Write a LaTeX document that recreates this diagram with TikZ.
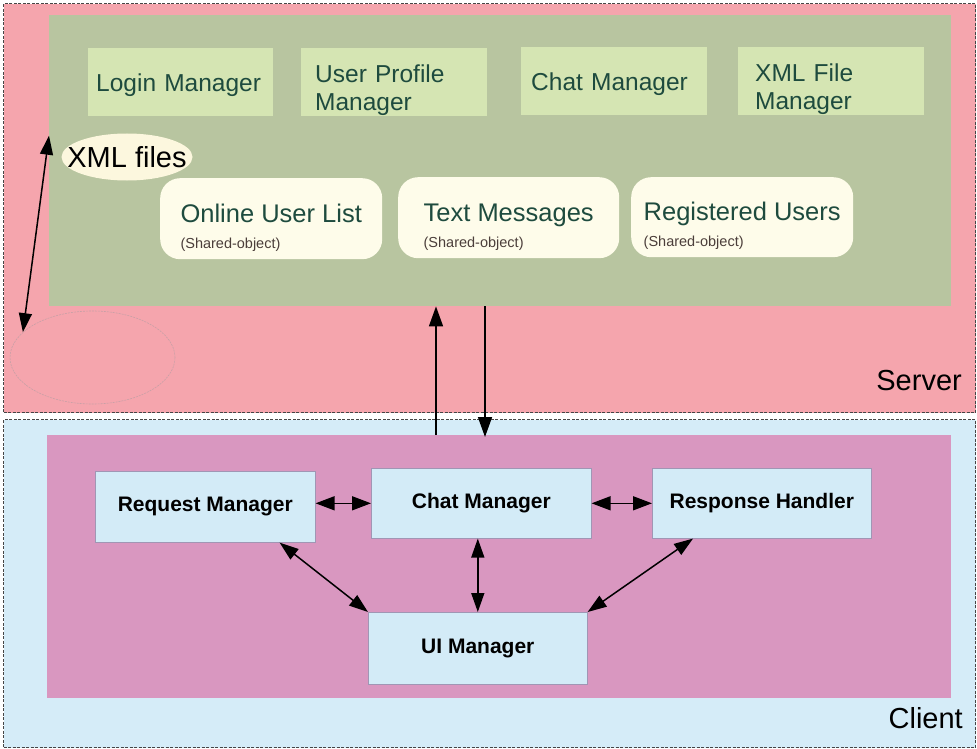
\documentclass[tikz,border=0pt]{standalone}
\usepackage{fontspec}
\setmainfont{Liberation Sans}
\usetikzlibrary{arrows.meta,shapes.geometric}
\definecolor{srvpink}{RGB}{245,165,173}
\definecolor{srvgreen}{RGB}{184,197,160}
\definecolor{tgreen}{RGB}{213,229,179}
\definecolor{cream}{RGB}{254,252,234}
\definecolor{xmlcream}{RGB}{252,247,222}
\definecolor{cliblue}{RGB}{213,236,248}
\definecolor{climag}{RGB}{217,151,192}
\definecolor{cbox}{RGB}{211,235,247}
\definecolor{cboxline}{RGB}{160,150,180}
\definecolor{tealtext}{RGB}{30,75,62}
\definecolor{subtext}{RGB}{75,62,58}
\definecolor{dashgray}{RGB}{70,70,70}
\definecolor{storeline}{RGB}{200,160,166}
\begin{document}
\begin{tikzpicture}[x=1pt,y=-1pt,
  zone/.style={rectangle, anchor=north west, inner sep=0pt, draw=dashgray,
    line width=1.1pt, dash pattern=on 3pt off 1.5pt},
  plain/.style={rectangle, anchor=north west, inner sep=0pt},
  tbox/.style={rectangle, anchor=north west, fill=tgreen, inner xsep=10pt,
    inner ysep=0pt, align=left, text=tealtext,
    font=\fontsize{24.5}{28}\selectfont},
  rbox/.style={rectangle, rounded corners=20pt, anchor=north west, fill=cream,
    inner sep=0pt, align=left, text=tealtext, text height=62pt, text depth=3pt,
    font=\fontsize{25.5}{26}\selectfont},
  cnode/.style={rectangle, anchor=north west, fill=cbox, draw=cboxline,
    line width=0.6pt, inner sep=0pt, font=\fontsize{21}{24}\selectfont\bfseries},
  zlabel/.style={anchor=base east, inner sep=0pt, font=\fontsize{29}{32}\selectfont},
  arr/.style={line width=1.5pt, {Triangle[length=19pt,width=13pt]}-{Triangle[length=19pt,width=13pt]}},
  arrone/.style={line width=1.5pt, -{Triangle[length=20pt,width=14pt]}},
  arrh/.style={line width=1.5pt, {Triangle[length=19pt,width=14pt]}-{Triangle[length=19pt,width=14pt]}}
]
\useasboundingbox (0,0) rectangle (977,749);
\fill[white] (0,0) rectangle (977,749);

% ---------------- Server ----------------
\node[zone, fill=srvpink, minimum width=972pt, minimum height=409pt] (server) at (3,3) {};
\node[plain, fill=srvgreen, minimum width=902pt, minimum height=291pt] (sinner) at (49,15) {};

\node[tbox, inner xsep=8pt, minimum width=185pt, text width=169pt, minimum height=68pt, text depth=0pt] (login) at (88,48) {\mbox{Login Manager}};
\node[tbox, inner xsep=14pt, minimum width=186pt, text width=158pt, minimum height=68pt, text height=18pt, text depth=18pt] (profile) at (301,48) {User Profile\\Manager};
\node[tbox, minimum width=186pt, text width=166pt, minimum height=68pt, text depth=0pt] (schat) at (521,47) {\mbox{Chat Manager}};
\node[tbox, inner xsep=17pt, minimum width=186pt, text width=152pt, minimum height=68pt, text height=18pt, text depth=18pt] (xmlm) at (738,47) {XML File\\Manager};

\node[ellipse, fill=xmlcream, inner sep=0pt, minimum width=131pt, minimum height=47pt,
  label={[font=\fontsize{29}{32}\selectfont, inner sep=0pt]center:XML files}] (xmlf) at (127,157) {};

\node[rbox, minimum width=222pt, minimum height=81pt] (online) at (160,178)
  {Online User List\\{\fontsize{14.5}{17}\selectfont\color{subtext}(Shared-object)}};
\node[rbox, minimum width=221pt, minimum height=81pt] (textmsg) at (398,177)
  {Text Messages\\{\fontsize{14.5}{17}\selectfont\color{subtext}(Shared-object)}};
\node[rbox, minimum width=222pt, minimum height=80pt] (reg) at (631,177)
  {Registered Users\\{\fontsize{14.5}{17}\selectfont\color{subtext}(Shared-object)}};

\node[ellipse, draw=storeline, line width=0.6pt, dash pattern=on 2pt off 1pt,
  inner sep=0pt, minimum width=165pt, minimum height=93pt] (store) at (92.5,357.5) {};

\node[zlabel] (srvlabel) at (962,390) {Server};

% ---------------- Client ----------------
\node[zone, fill=cliblue, minimum width=972pt, minimum height=328pt] (client) at (3,419) {};
\node[plain, fill=climag, minimum width=904pt, minimum height=263pt] (cinner) at (47,435) {};

\node[cnode, minimum width=220pt, minimum height=71pt] (req) at (95,471) {Request Manager};
\node[cnode, minimum width=220pt, minimum height=70pt] (cchat) at (371,468) {Chat Manager};
\node[cnode, minimum width=219pt, minimum height=70pt] (resp) at (652,468) {Response Handler};
\node[cnode, minimum width=219pt, minimum height=72pt] (ui) at (368,612) {UI Manager};

\node[zlabel] (clilabel) at (963,728) {Client};

% ---------------- Connectors ----------------
\coordinate (ux) at (436,0);
\coordinate (dx) at (485,0);
\draw[arr] ([yshift=25pt]sinner.west) -- (store.160);
\draw[arrone] (ux |- cinner.north) -- (ux |- sinner.south);
\draw[arrone] (dx |- sinner.south) -- ([yshift=-2pt]dx |- cinner.north);

\draw[arrh] (cchat.west -| req.east) -- (cchat.west);
\draw[arrh] (cchat.east) -- (cchat.east -| resp.west);
\draw[arr] ([xshift=-36pt]req.south east) -- (ui.north west);
\draw[arr] (ui.north |- cchat.south) -- (ui.north);
\draw[arr] ([xshift=41pt]resp.south west) -- (ui.north east);
\end{tikzpicture}
\end{document}
